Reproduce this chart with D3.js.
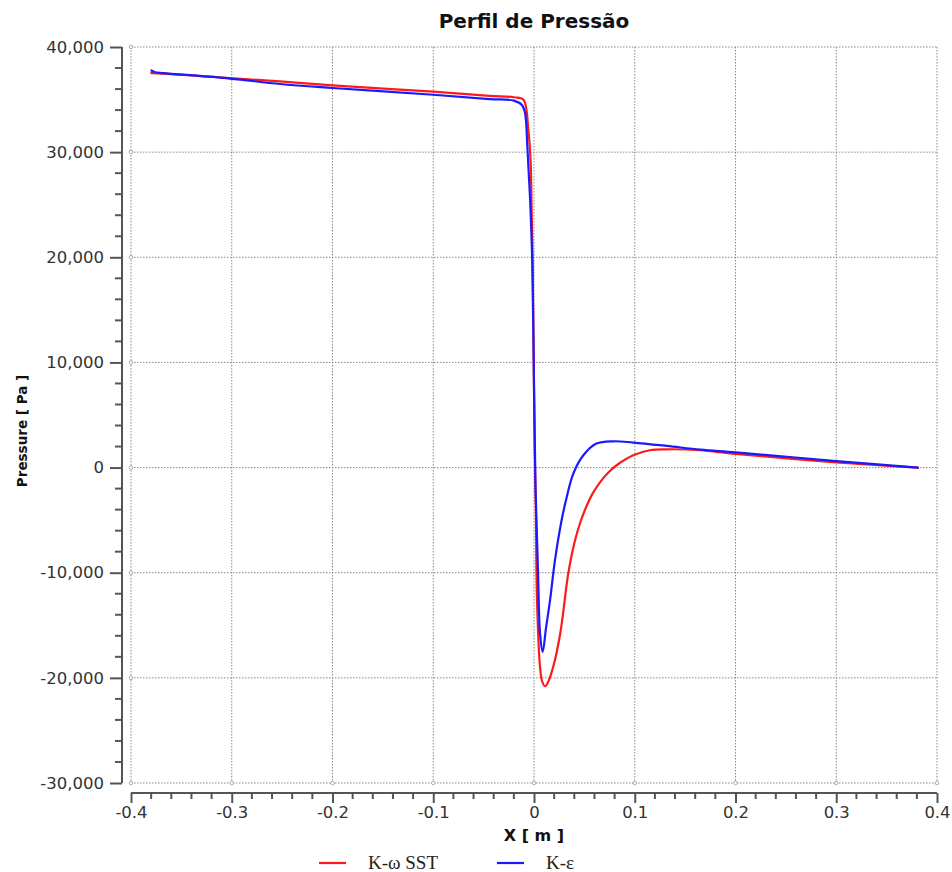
<!DOCTYPE html>
<html>
<head>
<meta charset="utf-8">
<script src="https://cdn.jsdelivr.net/npm/d3@7"></script>
<style>
  html, body { margin: 0; padding: 0; background: #fff; }
  svg { display: block; }
</style>
</head>
<body>
<div id="chart"></div>
<script>
// ---- Data ----
const title = "Perfil de Pressão";
const xLabel = "X [ m ]";
const yLabel = "Pressure [ Pa ]";
const seriesNames = ["K-ω SST", "K-ε"];
const seriesColors = ["#ff1a1a", "#1a1aff"];

const xTicks = [-0.4, -0.3, -0.2, -0.1, 0, 0.1, 0.2, 0.3, 0.4];
const yTicks = [-30000, -20000, -10000, 0, 10000, 20000, 30000, 40000];

// K-ω SST
const sstX = [-0.380, -0.368, -0.302, -0.252, -0.200, -0.100, -0.044, -0.020, -0.0106, -0.0056, -0.0033, -0.0023, -0.0013, -0.0003, 0.0007, 0.0017, 0.0030, 0.0060, 0.0080, 0.0109, 0.0140, 0.0190, 0.0260, 0.0340, 0.0400, 0.0460, 0.0520, 0.0580, 0.0655, 0.0740, 0.0820, 0.0985, 0.1150, 0.1320, 0.1650, 0.2000, 0.3000, 0.3810];
const sstY = [37520, 37470, 37050, 36730, 36350, 35750, 35350, 35220, 35000, 32100, 28950, 24200, 19450, 10000, 1500, -3100, -12630, -18970, -20300, -20800, -20400, -18970, -15800, -10090, -7200, -5200, -3700, -2500, -1400, -450, 220, 1170, 1650, 1740, 1650, 1300, 500, 0];

// K-ε
const keX = [-0.3797, -0.376, -0.368, -0.302, -0.252, -0.200, -0.100, -0.044, -0.020, -0.0122, -0.0089, -0.0066, -0.0040, -0.0017, 0.0000, 0.0015, 0.0040, 0.0060, 0.0086, 0.0120, 0.0159, 0.0208, 0.0274, 0.0330, 0.0390, 0.0490, 0.0620, 0.0790, 0.0985, 0.1320, 0.1650, 0.2000, 0.3000, 0.3810];
const keY = [37770, 37600, 37520, 37000, 36480, 36100, 35460, 35050, 34900, 34510, 33720, 30540, 25790, 19450, 8000, -2000, -10000, -15800, -17540, -15200, -12630, -8820, -5010, -2600, -570, 1170, 2280, 2500, 2380, 2060, 1710, 1450, 620, 0];

// ---- Layout ----
const W = 952, H = 872;
const margin = { left: 131, right: 15, top: 47, bottom: 89 };
const iw = W - margin.left - margin.right;
const ih = H - margin.top - margin.bottom;

const svg = d3.select("#chart").append("svg")
  .attr("width", W).attr("height", H);

const x = d3.scaleLinear().domain([-0.4, 0.4]).range([margin.left, margin.left + iw]);
const y = d3.scaleLinear().domain([-30000, 40000]).range([margin.top + ih, margin.top]);

const gridColor = "#8a8a8a";
const axisColor = "#555";
const labelFont = "'DejaVu Sans', sans-serif";
const hyph = s => s.replace(/\u2212/g, "-");

// Grid
const grid = svg.append("g");
grid.selectAll("line.vx").data(xTicks).join("line")
  .attr("x1", d => x(d)).attr("x2", d => x(d))
  .attr("y1", y(40000)).attr("y2", y(-30000))
  .attr("stroke", gridColor).attr("stroke-width", 1)
  .attr("stroke-dasharray", "1.5,1.5");
grid.selectAll("line.hy").data(yTicks).join("line")
  .attr("x1", x(-0.4)).attr("x2", x(0.4))
  .attr("y1", d => y(d)).attr("y2", d => y(d))
  .attr("stroke", gridColor).attr("stroke-width", 1)
  .attr("stroke-dasharray", "1.5,1.5");
grid.selectAll("circle.l").data(yTicks).join("circle")
  .attr("cx", x(-0.4)).attr("cy", d => y(d)).attr("r", 1.8)
  .attr("fill", "#fff").attr("stroke", "#999").attr("stroke-width", 0.8);
grid.selectAll("circle.b").data(xTicks.slice(1)).join("circle")
  .attr("cx", d => x(d)).attr("cy", y(-30000)).attr("r", 1.8)
  .attr("fill", "#fff").attr("stroke", "#999").attr("stroke-width", 0.8);

// Y axis (offset to the left)
const yMinor = d3.range(-30000, 40001, 2000).filter(v => v % 10000 !== 0);
const yAxisG = svg.append("g").attr("transform", `translate(${margin.left - 9},0)`);
yAxisG.call(d3.axisLeft(y).tickValues(yTicks).tickSize(12).tickPadding(6)
  .tickFormat(d => hyph(d3.format(",")(d))));
yAxisG.select(".domain").attr("d", `M0,${y(40000)}V${y(-30000)}`)
  .attr("stroke", axisColor).attr("stroke-width", 2);
yAxisG.selectAll(".tick line").attr("stroke", axisColor).attr("stroke-width", 2);
yAxisG.selectAll(".tick text").attr("font-family", labelFont).attr("font-size", 16.5)
  .attr("fill", "#333");
yAxisG.selectAll("line.minor").data(yMinor).join("line")
  .attr("x1", -7).attr("x2", 0).attr("y1", d => y(d)).attr("y2", d => y(d))
  .attr("stroke", axisColor).attr("stroke-width", 2);

// X axis (offset below)
const xMinor = d3.range(-0.4, 0.4001, 0.02).filter(v => Math.abs(Math.round(v * 10) - v * 10) > 1e-6);
const xAxisG = svg.append("g").attr("transform", `translate(0,${margin.top + ih + 10})`);
xAxisG.call(d3.axisBottom(x).tickValues(xTicks).tickSize(10).tickPadding(3)
  .tickFormat(d => hyph(d3.format(".1~f")(d))));
xAxisG.select(".domain").attr("d", `M${x(-0.4)},0H${x(0.4)}`)
  .attr("stroke", axisColor).attr("stroke-width", 2);
xAxisG.selectAll(".tick line").attr("stroke", axisColor).attr("stroke-width", 2);
xAxisG.selectAll(".tick text").attr("font-family", labelFont).attr("font-size", 16.5)
  .attr("fill", "#333");
xAxisG.selectAll("line.minor").data(xMinor).join("line")
  .attr("x1", d => x(d)).attr("x2", d => x(d)).attr("y1", 0).attr("y2", 6)
  .attr("stroke", axisColor).attr("stroke-width", 2);

// Lines
const line = d3.line().x(d => x(d[0])).y(d => y(d[1])).curve(d3.curveCatmullRom.alpha(0.5));
const series = [
  { name: seriesNames[0], color: seriesColors[0], pts: d3.zip(sstX, sstY) },
  { name: seriesNames[1], color: seriesColors[1], pts: d3.zip(keX, keY) }
];
svg.append("g").selectAll("path").data(series).join("path")
  .attr("d", d => line(d.pts))
  .attr("fill", "none").attr("stroke", d => d.color)
  .attr("stroke-width", 2.2).attr("stroke-linejoin", "round").attr("stroke-linecap", "round");

// Title
svg.append("text").attr("x", x(0)).attr("y", 28).attr("text-anchor", "middle")
  .attr("font-family", labelFont)
  .attr("font-weight", "bold").attr("font-size", 20).attr("fill", "#111")
  .text(title);

// Axis titles
svg.append("text").attr("x", x(0)).attr("y", 841).attr("text-anchor", "middle")
  .attr("font-family", labelFont).attr("font-weight", "bold").attr("font-size", 16)
  .attr("fill", "#111").text(xLabel);
svg.append("text").attr("transform", `translate(27,${431}) rotate(-90)`)
  .attr("text-anchor", "middle")
  .attr("font-family", labelFont).attr("font-weight", "bold").attr("font-size", 13.5)
  .attr("fill", "#111").text(yLabel);

// Legend
const legendX = [319, 497];
const leg = svg.append("g").selectAll("g").data(series).join("g")
  .attr("transform", (d, i) => `translate(${legendX[i]},863)`);
leg.append("line").attr("x1", 0).attr("x2", 27).attr("y1", 0).attr("y2", 0)
  .attr("stroke", d => d.color).attr("stroke-width", 2.2);
leg.append("text").attr("x", 49).attr("y", 6)
  .attr("font-family", "'Liberation Serif', 'DejaVu Serif', serif")
  .attr("font-size", 19).attr("fill", "#222").text(d => d.name);
</script>
</body>
</html>
